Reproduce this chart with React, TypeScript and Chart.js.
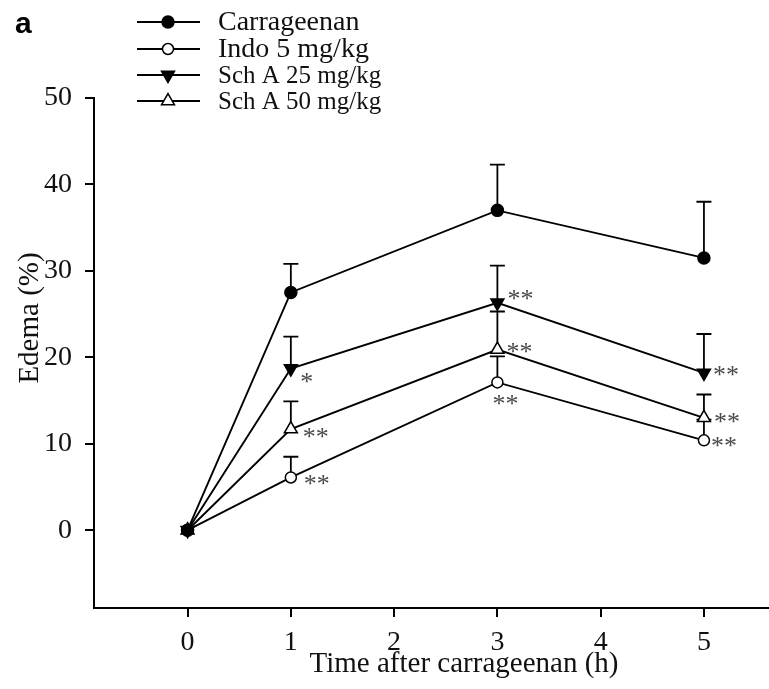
import React, { useEffect, useRef } from "react";
import { Chart, registerables } from "chart.js";

Chart.register(...registerables);

// ---------- data ----------
const timePoints = [0, 1, 3, 5];
const seriesNames = ["Carrageenan", "Indo 5 mg/kg", "Sch A 25 mg/kg", "Sch A 50 mg/kg"];
const carrageenan = [0, 27.5, 37.0, 31.5];
const carrageenanUpper = [0, 30.8, 42.3, 38.0];
const indo = [0, 6.1, 17.1, 10.4];
const indoUpper = [0, 8.5, 20.1, 12.8];
const schA25 = [0, 18.7, 26.3, 18.2];
const schA25Upper = [0, 22.4, 30.6, 22.7];
const schA50 = [0, 11.7, 20.9, 13.0];
const schA50Upper = [0, 14.9, 25.3, 15.7];
const xTicks = [0, 1, 2, 3, 4, 5];
const yTicks = [0, 10, 20, 30, 40, 50];
const xTitle = "Time after carrageenan (h)";
const yTitle = "Edema (%)";
const panelLabel = "a";
// significance marks: series index, point index, text
const sigSeries = [2, 3, 1, 2, 3, 1, 2, 3, 1];
const sigPoint = [1, 1, 1, 2, 2, 2, 3, 3, 3];
const sigText = ["*", "**", "**", "**", "**", "**", "**", "**", "**"];

const values = [carrageenan, indo, schA25, schA50];
const uppers = [carrageenanUpper, indoUpper, schA25Upper, schA50Upper];

// ---------- styles ----------
const SERIF = '"Liberation Serif", "Times New Roman", serif';
const markerStyle = [
  { pointStyle: "circle", radius: 6, fill: "#000", rotation: 0 },
  { pointStyle: "circle", radius: 5.5, fill: "#fff", rotation: 0 },
  { pointStyle: "triangle", radius: 7.5, fill: "#000", rotation: 180 },
  { pointStyle: "triangle", radius: 7.5, fill: "#fff", rotation: 0 },
];
// offsets of significance marks relative to their point (px)
const sigOffset = [
  [16, 8], [25, 3], [26, 2],
  [23, -9], [22, -3], [8, 17],
  [22, -3], [23, -1], [20, 1],
];

function drawMarker(ctx: CanvasRenderingContext2D, style: string, r: number, rot: number, x: number, y: number, fill: string) {
  ctx.save();
  ctx.fillStyle = fill;
  ctx.strokeStyle = "#000";
  ctx.lineWidth = 1.5;
  ctx.beginPath();
  if (style === "circle") {
    ctx.arc(x, y, r, 0, Math.PI * 2);
  } else {
    let rad = (rot * Math.PI) / 180;
    const step = (2 * Math.PI) / 3;
    ctx.moveTo(x + Math.sin(rad) * r, y - Math.cos(rad) * r);
    rad += step;
    ctx.lineTo(x + Math.sin(rad) * r, y - Math.cos(rad) * r);
    rad += step;
    ctx.lineTo(x + Math.sin(rad) * r, y - Math.cos(rad) * r);
    ctx.closePath();
  }
  ctx.fill();
  ctx.stroke();
  ctx.restore();
}

const overlayPlugin = {
  id: "overlay",
  beforeDatasetsDraw(chart: any) {
    const ctx = chart.ctx;
    const xs = chart.scales.x;
    const ys = chart.scales.y;
    ctx.save();
    ctx.strokeStyle = "#000";
    ctx.lineWidth = 1.8;
    uppers.forEach((arr, si) => {
      arr.forEach((u, i) => {
        const v = values[si][i];
        if (u <= v) return;
        const px = xs.getPixelForValue(timePoints[i]);
        const y0 = ys.getPixelForValue(v);
        const y1 = ys.getPixelForValue(u);
        ctx.beginPath();
        ctx.moveTo(px, y0);
        ctx.lineTo(px, y1);
        ctx.moveTo(px - 7.5, y1);
        ctx.lineTo(px + 7.5, y1);
        ctx.stroke();
      });
    });
    ctx.restore();
  },
  afterDraw(chart: any) {
    const ctx = chart.ctx;
    const xs = chart.scales.x;
    const ys = chart.scales.y;
    ctx.save();
    // significance marks
    ctx.fillStyle = "#4a4a4a";
    ctx.font = `26px ${SERIF}`;
    ctx.textAlign = "center";
    ctx.textBaseline = "alphabetic";
    sigText.forEach((t, k) => {
      const si = sigSeries[k];
      const pi = sigPoint[k];
      const px = xs.getPixelForValue(timePoints[pi]) + sigOffset[k][0];
      const py = ys.getPixelForValue(values[si][pi]) + sigOffset[k][1];
      ctx.fillText(t, px, py + 13);
    });

    // x title
    ctx.fillStyle = "#111";
    ctx.font = `29px ${SERIF}`;
    ctx.textAlign = "center";
    ctx.textBaseline = "middle";
    ctx.fillText(xTitle, 464, 664);

    // y title
    ctx.save();
    ctx.translate(30, 318);
    ctx.rotate(-Math.PI / 2);
    ctx.fillText(yTitle, 0, 0);
    ctx.restore();

    // panel label
    ctx.font = `bold 30px "Liberation Sans", Arial, sans-serif`;
    ctx.textAlign = "left";
    ctx.textBaseline = "alphabetic";
    ctx.fillStyle = "#000";
    ctx.fillText(panelLabel, 15, 33);

    // legend
    const rowsY = [22, 49, 75, 101];
    const fontSizes = [28, 28, 25, 25];
    seriesNames.forEach((name, i) => {
      const y = rowsY[i];
      ctx.strokeStyle = "#000";
      ctx.lineWidth = 2;
      ctx.beginPath();
      ctx.moveTo(137, y);
      ctx.lineTo(200, y);
      ctx.stroke();
      const m = markerStyle[i];
      drawMarker(ctx, m.pointStyle, m.radius, m.rotation, 168, y, m.fill);
      ctx.fillStyle = "#111";
      ctx.font = `${fontSizes[i]}px ${SERIF}`;
      ctx.textAlign = "left";
      ctx.textBaseline = "middle";
      ctx.fillText(name, 218, y + 1);
    });
    ctx.restore();
  },
};

export default function App() {
  const canvasRef = useRef<HTMLCanvasElement | null>(null);

  useEffect(() => {
    if (!canvasRef.current) return;
    const datasets = values.map((vals, si) => ({
      label: seriesNames[si],
      data: timePoints.map((t, i) => ({ x: t, y: vals[i] })),
      borderColor: "#000",
      borderWidth: 1.9,
      backgroundColor: markerStyle[si].fill,
      pointStyle: markerStyle[si].pointStyle,
      pointRadius: markerStyle[si].radius,
      pointRotation: markerStyle[si].rotation,
      pointBackgroundColor: markerStyle[si].fill,
      pointBorderColor: "#000",
      pointBorderWidth: 1.5,
      tension: 0,
      fill: false,
      clip: false as any,
    }));

    const chart = new Chart(canvasRef.current, {
      type: "line",
      data: { datasets },
      plugins: [overlayPlugin],
      options: {
        animation: false,
        responsive: false,
        events: [],
        layout: { autoPadding: false, padding: { top: 98, right: 0, left: 0, bottom: 0 } },
        plugins: {
          legend: { display: false },
          tooltip: { enabled: false },
        },
        scales: {
          x: {
            type: "linear",
            min: -0.906,
            max: 5.63,
            afterBuildTicks: (s: any) => {
              s.ticks = xTicks.map((v) => ({ value: v }));
            },
            afterFit: (s: any) => {
              s.height = 81;
              s.paddingRight = 0;
              s.paddingLeft = 0;
            },
            border: { display: true, color: "#000", width: 2 },
            grid: {
              display: true,
              drawOnChartArea: false,
              drawTicks: true,
              tickLength: 9,
              color: "#000",
              lineWidth: 2,
            },
            ticks: {
              color: "#111",
              font: { family: SERIF, size: 28 },
              padding: 9,
              maxRotation: 0,
              autoSkip: false,
            },
          },
          y: {
            type: "linear",
            min: -9,
            max: 50,
            afterBuildTicks: (s: any) => {
              s.ticks = yTicks.map((v) => ({ value: v }));
            },
            afterFit: (s: any) => {
              s.width = 94;
              s.paddingTop = 0;
              s.paddingBottom = 0;
            },
            border: { display: true, color: "#000", width: 2 },
            grid: {
              display: true,
              drawOnChartArea: false,
              drawTicks: true,
              tickLength: 9,
              color: "#000",
              lineWidth: 2,
            },
            ticks: {
              color: "#111",
              font: { family: SERIF, size: 28 },
              padding: 13,
              autoSkip: false,
            },
          },
        },
      },
    });
    return () => chart.destroy();
  }, []);

  return (
    <div style={{ position: "fixed", left: 0, top: 0, width: 769, height: 689, background: "#fff" }}>
      <canvas ref={canvasRef} width={769} height={689} style={{ display: "block", width: 769, height: 689 }} />
    </div>
  );
}
